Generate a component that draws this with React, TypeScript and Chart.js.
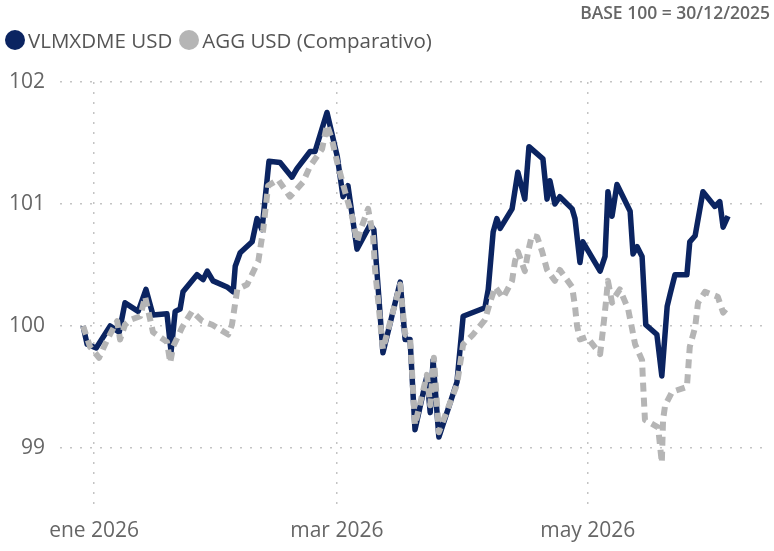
import React, { useEffect, useRef } from "react";
import { Chart, registerables } from "chart.js";

Chart.register(...registerables);

// Days since 1 Jan 2026 (0 = 1 ene 2026)
const fundDays = [
  -2.7, -1.7, 0.5, 3.9, 6.1, 7.5, 10.7, 12.6, 14.3, 17.7,
  18.7, 19.7, 20.9, 21.6, 25.0, 26.5, 27.5, 28.9, 32.3, 33.8,
  34.3, 35.5, 38.4, 39.6, 40.8, 42.5, 45.2, 48.1, 49.3, 52.5,
  53.7, 56.6, 59.1, 60.5, 61.7, 63.9, 67.1, 68.0, 70.2, 74.4,
  75.6, 76.8, 78.0, 80.9, 81.7, 82.4, 83.8, 88.2, 89.7, 95.0,
  95.8, 97.0, 97.9, 98.7, 101.6, 103.0, 104.7, 105.7, 109.1, 110.1,
  110.8, 112.0, 113.2, 116.2, 116.9, 118.1, 118.8, 123.0, 124.2, 124.9,
  125.9, 127.1, 130.3, 131.0, 132.0, 133.2, 134.1, 136.8, 138.0, 139.3,
  140.0, 141.2, 144.1, 144.8, 146.1, 148.0, 150.9, 152.1, 152.9, 154.1,
];
const fundValues = [
  100.0, 99.85, 99.82, 100.0, 99.95, 100.19, 100.12, 100.3, 100.09, 100.1,
  99.79, 100.12, 100.14, 100.28, 100.42, 100.38, 100.45, 100.37, 100.32, 100.28,
  100.49, 100.6, 100.69, 100.88, 100.79, 101.35, 101.34, 101.22, 101.29, 101.43,
  101.43, 101.75, 101.39, 101.06, 101.15, 100.63, 100.83, 100.79, 99.78, 100.36,
  99.89, 99.89, 99.15, 99.59, 99.29, 99.72, 99.09, 99.54, 100.08, 100.15,
  100.3, 100.77, 100.88, 100.8, 100.96, 101.26, 101.04, 101.47, 101.37, 101.04,
  101.19, 101.0, 101.06, 100.96, 100.88, 100.52, 100.69, 100.45, 100.57, 101.1,
  100.9, 101.16, 100.94, 100.59, 100.65, 100.57, 100.01, 99.93, 99.59, 100.16,
  100.26, 100.42, 100.42, 100.69, 100.74, 101.1, 100.98, 101.02, 100.81, 100.9,
];

const aggDays = [
  -2.7, -1.0, 1.2, 3.2, 5.6, 6.3, 7.5, 8.8, 11.2, 12.4,
  14.3, 17.7, 18.5, 19.2, 21.4, 23.8, 26.3, 28.7, 32.6, 33.5,
  34.3, 34.8, 37.2, 39.9, 41.1, 42.3, 44.7, 47.6, 50.8, 52.5,
  55.4, 56.6, 57.8, 59.1, 61.0, 62.7, 63.9, 65.1, 66.6, 67.8,
  68.3, 70.2, 74.4, 75.6, 76.8, 78.0, 80.9, 81.7, 82.6, 83.8,
  88.2, 89.7, 92.1, 95.0, 96.2, 97.5, 99.4, 101.6, 102.3, 103.0,
  104.7, 105.5, 106.4, 107.7, 108.9, 110.1, 112.0, 113.2, 116.2, 116.9,
  117.4, 118.1, 119.8, 123.0, 123.7, 124.4, 124.9, 125.9, 126.6, 127.8,
  129.8, 130.7, 131.5, 133.2, 133.4, 133.9, 137.1, 138.0, 138.3, 138.8,
  140.5, 144.1, 144.8, 146.1, 146.8, 148.5, 151.6, 152.9, 154.1,
];
const aggValues = [
  100.0, 99.83, 99.74, 99.89, 100.04, 99.89, 100.01, 100.05, 100.08, 100.24,
  99.95, 99.87, 99.7, 99.83, 99.99, 100.12, 100.04, 100.01, 99.93, 100.01,
  100.19, 100.3, 100.34, 100.53, 100.79, 101.15, 101.2, 101.06, 101.18, 101.31,
  101.45, 101.65, 101.53, 101.34, 101.1, 100.9, 100.69, 100.82, 100.96, 100.74,
  100.46, 99.81, 100.34, 99.93, 99.91, 99.19, 99.6, 99.35, 99.74, 99.13,
  99.52, 99.85, 99.93, 100.05, 100.19, 100.32, 100.23, 100.37, 100.53, 100.61,
  100.45, 100.61, 100.74, 100.73, 100.61, 100.46, 100.37, 100.46, 100.32, 100.16,
  100.0, 99.89, 99.91, 99.77, 99.97, 100.19, 100.37, 100.19, 100.24, 100.3,
  100.14, 99.99, 99.85, 99.72, 99.56, 99.23, 99.17, 98.88, 99.23, 99.35,
  99.46, 99.5, 99.83, 99.99, 100.19, 100.28, 100.24, 100.11, 100.16,
];

const xTickDays = [0, 59, 120];
const xTickLabels = ["ene 2026", "mar 2026", "may 2026"];
const yTickValues = [99, 100, 101, 102];
const seriesNames = ["VLMXDME USD", "AGG USD (Comparativo)"];
const baseLabel = "BASE 100 = 30/12/2025";

const NAVY = "#0b2461";
const GRAY = "#b5b5b5";
const FONT = "'Open Sans', 'Noto Sans', sans-serif";

export default function App() {
  const ref = useRef<HTMLCanvasElement>(null);

  useEffect(() => {
    const chart = new Chart(ref.current as HTMLCanvasElement, {
      type: "line",
      data: {
        datasets: [
          {
            label: seriesNames[1],
            data: aggDays.map((d, i) => ({ x: d, y: aggValues[i] })),
            borderColor: GRAY,
            backgroundColor: GRAY,
            borderWidth: 6,
            borderDash: [9, 6],
            borderCapStyle: "butt",
            borderJoinStyle: "round",
            pointRadius: 0,
            tension: 0,
            fill: false,
          },
          {
            label: seriesNames[0],
            data: fundDays.map((d, i) => ({ x: d, y: fundValues[i] })),
            borderColor: NAVY,
            backgroundColor: NAVY,
            borderWidth: 5.5,
            borderJoinStyle: "round",
            pointRadius: 0,
            tension: 0,
            fill: false,
          },
        ],
      },
      options: {
        animation: false,
        responsive: false,
        maintainAspectRatio: false,
        layout: { padding: { top: 82, right: 4, left: 0, bottom: 0 } },
        plugins: {
          legend: { display: false },
          tooltip: { enabled: false },
          title: { display: false },
        },
        scales: {
          x: {
            type: "linear",
            min: -8.3,
            max: 164.3,
            afterBuildTicks: (s: any) => {
              s.ticks = xTickDays.map((v) => ({ value: v }));
            },
            afterFit: (s: any) => {
              s.height = 42;
            },
            ticks: {
              autoSkip: false,
              maxRotation: 0,
              padding: 9,
              color: "#666666",
              font: { family: FONT, size: 21 },
              callback: (v: any) => {
                const i = xTickDays.indexOf(Number(v));
                return i >= 0 ? xTickLabels[i] : "";
              },
            },
            grid: { color: "#c4c4c4", lineWidth: 1.5, drawTicks: false },
            border: { display: false, dash: [2, 8] },
          },
          y: {
            type: "linear",
            min: 98.5,
            max: 102,
            afterBuildTicks: (s: any) => {
              s.ticks = yTickValues.map((v) => ({ value: v }));
            },
            afterFit: (s: any) => {
              s.width = 60;
            },
            ticks: {
              padding: 15,
              color: "#666666",
              font: { family: FONT, size: 21 },
              callback: (v: any) => String(v),
            },
            grid: { color: "#c4c4c4", lineWidth: 1.5, drawTicks: false },
            border: { display: false, dash: [2, 8] },
          },
        },
      },
    } as any);
    return () => chart.destroy();
  }, []);

  const legendItem = (name: string, color: string, ml: number) => (
    <div style={{ display: "flex", alignItems: "center", marginLeft: ml }}>
      <div
        style={{
          width: 20,
          height: 20,
          borderRadius: "50%",
          background: color,
          marginRight: 3,
        }}
      />
      <span>{name}</span>
    </div>
  );

  return (
    <div
      style={{
        position: "fixed",
        left: 0,
        top: 0,
        width: 774,
        height: 551,
        background: "#ffffff",
        overflow: "hidden",
        fontFamily: FONT,
      }}
    >
      <canvas
        ref={ref}
        width={774}
        height={551}
        style={{ position: "absolute", left: 0, top: 0, width: 774, height: 551 }}
      />
      <div
        style={{
          position: "absolute",
          right: 4,
          top: 0,
          fontSize: 17.5,
          fontWeight: 600,
          color: "#666666",
          whiteSpace: "nowrap",
        }}
      >
        {baseLabel}
      </div>
      <div
        style={{
          position: "absolute",
          left: 5,
          top: 26,
          display: "flex",
          alignItems: "center",
          fontSize: 20.5,
          color: "#555555",
          whiteSpace: "nowrap",
        }}
      >
        {legendItem(seriesNames[0], NAVY, 0)}
        {legendItem(seriesNames[1], GRAY, 7)}
      </div>
    </div>
  );
}
